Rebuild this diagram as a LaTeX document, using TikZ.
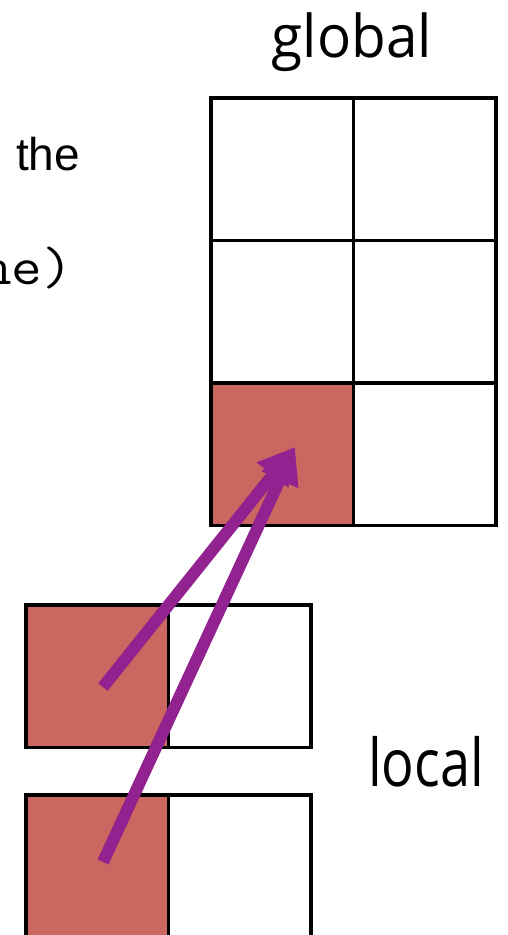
\documentclass[tikz,border=0pt]{standalone}
\usepackage{fontspec}
\setmainfont{Liberation Sans}
\newfontfamily\labfont{Open Sans}
\usetikzlibrary{arrows.meta}
\definecolor{cellred}{RGB}{204,102,96}
\definecolor{arrpurple}{RGB}{146,34,143}
\begin{document}
\begin{tikzpicture}[x=1pt,y=-1pt,
  cell/.style={draw=black,line width=3.5pt,minimum size=142.5pt,inner sep=0pt,outer sep=0pt,anchor=north west},
  hot/.style={cell,fill=cellred},
  mover/.style={draw=arrpurple,line width=12pt,-{Triangle[length=36pt,width=38pt]}}
]
\useasboundingbox (0,0) rectangle (508,935);
% global grid
\node[cell] (g11) at (211,98) {};
\node[cell] (g12) at (353.5,98) {};
\node[cell] (g21) at (211,240.5) {};
\node[cell] (g22) at (353.5,240.5) {};
\node[hot]  (g31) at (211,383) {};
\node[cell] (g32) at (353.5,383) {};
% local arrays
\node[hot]  (a1) at (26,605) {};
\node[cell] (a2) at (168.5,605) {};
\node[hot]  (b1) at (26,795) {};
\node[cell] (b2) at (168.5,795) {};
% texts
\node[font=\labfont\fontsize{59}{62}\selectfont,anchor=base,inner sep=0pt] (tglobal) at (352,57) {\scalebox{0.96}[1]{global}};
\node[font=\labfont\fontsize{66}{70}\selectfont,anchor=base west,inner sep=0pt] (tlocal) at (368,786) {\scalebox{0.82}[1]{local}};
\node[font=\fontsize{46}{50}\selectfont,anchor=base west,inner sep=0pt] (tthe) at (16,170) {the};
\node[font=\ttfamily\fontsize{54}{58}\selectfont,anchor=base west,inner sep=0pt] (tne) at (-18.8,284) {\scalebox{1.1}[1]{ne)}};
% arrows
\coordinate (s1) at (103,687);
\coordinate (s2) at (103,862);
\coordinate (tip) at (295,447);
\draw[mover] (s1) -- (tip);
\draw[mover] (s2) -- (tip);
\end{tikzpicture}
\end{document}
